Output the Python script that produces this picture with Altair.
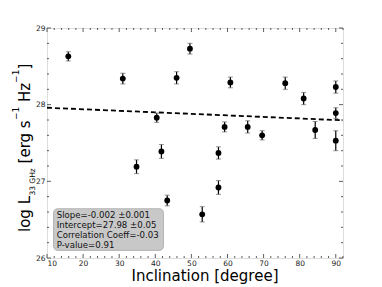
import altair as alt
import pandas as pd
import numpy as np

# ---- data ----
incl = [15.9, 31.0, 34.8, 40.4, 41.7, 43.3, 45.9, 49.6, 53.0, 57.5, 57.5,
        59.2, 60.8, 65.6, 69.6, 76.0, 81.1, 84.3, 90.0, 90.0, 90.0]
logL = [28.63, 28.34, 27.19, 27.83, 27.39, 26.75, 28.35, 28.73, 26.57, 27.37, 26.92,
        27.71, 28.29, 27.71, 27.60, 28.28, 28.08, 27.67, 28.23, 27.89, 27.53]
err = [0.06, 0.07, 0.09, 0.06, 0.09, 0.07, 0.08, 0.07, 0.10, 0.08, 0.09,
       0.065, 0.07, 0.08, 0.06, 0.08, 0.08, 0.11, 0.08, 0.07, 0.13]

slope = -0.002
intercept = 27.98
fit_x = [10, 92]

stats_lines = ["Slope=-0.002 \u00b10.001",
               "Intercept=27.98 \u00b10.05",
               "Correlation Coeff=-0.03",
               "P-value=0.91"]

x_major = [10, 20, 30, 40, 50, 60, 70, 80, 90]
x_minor = [v for v in range(10, 93, 2) if v % 10 != 0]
y_major = [26, 27, 28, 29]
y_minor = [round(26 + 0.2 * i, 1) for i in range(16) if (i % 5) != 0]

FONT = "DejaVu Sans"
W, H = 296, 230

df = pd.DataFrame({"x": incl, "y": logL, "lo": np.array(logL) - np.array(err),
                   "hi": np.array(logL) + np.array(err)})
fit = pd.DataFrame({"x": fit_x, "y": [intercept + slope * v for v in fit_x]})
one = pd.DataFrame({"a": [0]})

xs = alt.Scale(domain=[10, 92], nice=False, zero=False)
ys = alt.Scale(domain=[26, 29], nice=False, zero=False)
xaxis = alt.Axis(values=x_major, ticks=False, domain=False, grid=False, title=None,
                 labelFont=FONT, labelFontSize=7.5, labelColor="#222", labelPadding=1)
yaxis = alt.Axis(values=y_major, ticks=False, domain=False, grid=False, title=None,
                 labelFont=FONT, labelFontSize=7.5, labelColor="#222", labelPadding=2,
                 format="d")


def X(f):
    return alt.X(f, type="quantitative", scale=xs, axis=xaxis)


def Y(f):
    return alt.Y(f, type="quantitative", scale=ys, axis=yaxis)


# inward ticks on all four sides
def xticks(vals, ln):
    d = pd.DataFrame({"v": vals})
    b = alt.Chart(d).mark_rule(color="#333", strokeWidth=0.8).encode(
        x=X("v"), y=alt.value(H), y2=alt.value(H - ln))
    t = alt.Chart(d).mark_rule(color="#333", strokeWidth=0.8).encode(
        x=X("v"), y=alt.value(0), y2=alt.value(ln))
    return [b, t]


def yticks(vals, ln):
    d = pd.DataFrame({"v": vals})
    l = alt.Chart(d).mark_rule(color="#333", strokeWidth=0.8).encode(
        y=Y("v"), x=alt.value(0), x2=alt.value(ln))
    r = alt.Chart(d).mark_rule(color="#333", strokeWidth=0.8).encode(
        y=Y("v"), x=alt.value(W), x2=alt.value(W - ln))
    return [l, r]


ticks = xticks(x_major, 4) + xticks(x_minor, 2) + yticks(y_major, 4) + yticks(y_minor, 2)

fitline = alt.Chart(fit).mark_line(color="black", strokeWidth=1.8, strokeDash=[5, 3]).encode(
    x=X("x"), y=Y("y"))

bars = alt.Chart(df).mark_rule(color="black", strokeWidth=1.2).encode(
    x=X("x"), y=Y("lo"), y2="hi")
cap_lo = alt.Chart(df).mark_tick(orient="horizontal", size=5, thickness=1, color="#666").encode(
    x=X("x"), y=Y("lo"))
cap_hi = alt.Chart(df).mark_tick(orient="horizontal", size=5, thickness=1, color="#666").encode(
    x=X("x"), y=Y("hi"))
pts = alt.Chart(df).mark_circle(size=34, color="black", opacity=1).encode(
    x=X("x"), y=Y("y"))

box = alt.Chart(one).mark_rect(fill="#c8c8c8", stroke="#aaaaaa", strokeWidth=0.8,
                               cornerRadius=4).encode(
    x=alt.value(6.5), x2=alt.value(116.5), y=alt.value(180.7), y2=alt.value(222.4))
boxtext = alt.Chart(one).mark_text(align="left", baseline="top", font=FONT, fontSize=8.6,
                                   color="#111", lineBreak="\n", lineHeight=10.2).encode(
    x=alt.value(9.7), y=alt.value(182.6), text=alt.value("\n".join(stats_lines)))

xtitle = alt.Chart(one).mark_text(font=FONT, fontSize=15, color="black",
                                  align="center", baseline="middle").encode(
    x=alt.value(158), y=alt.value(248), text=alt.value("Inclination [degree]"))

# y title built from pieces (rotated, reading bottom to top)
ypieces = [
    ("log L", 15, -22, 204.0),
    ("33 GHz", 7.5, -14, 167.6),
    ("[erg s", 15, -22, 135.4),
    ("\u22121", 9, -31, 92.1),
    ("Hz", 15, -22, 74.0),
    ("\u22121", 9, -31, 54.9),
    ("]", 15, -22, 41.6),
]
ytitle = [alt.Chart(one).mark_text(font=FONT, fontSize=fs, color="black", angle=270,
                                   align="left", baseline="middle").encode(
    x=alt.value(px), y=alt.value(py), text=alt.value(t)) for t, fs, px, py in ypieces]

chart = alt.layer(*ticks, fitline, bars, cap_lo, cap_hi, pts, box, boxtext, xtitle, *ytitle
                  ).properties(
    width=W, height=H,
    autosize=alt.AutoSizeParams(type="none"),
    padding={"left": 39, "top": 20, "right": 20, "bottom": 30},
).configure_view(stroke="#333", strokeWidth=1.2).configure(background="white")

chart.save("out.html", embed_options={"renderer": "svg", "actions": False})
